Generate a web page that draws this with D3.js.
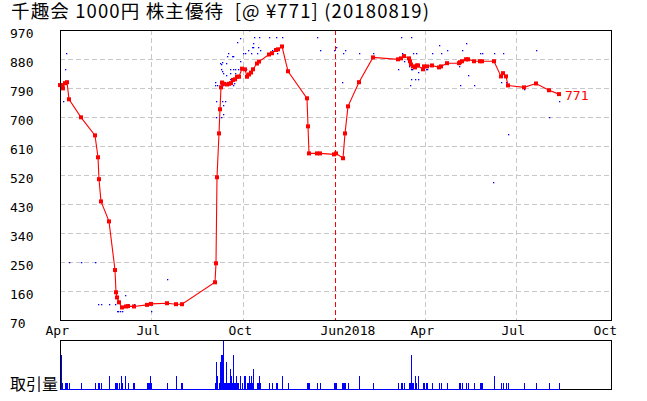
<!DOCTYPE html>
<html><head><meta charset="utf-8">
<script src="https://cdn.jsdelivr.net/npm/d3@7"></script>
<style>body{margin:0;background:#fff}</style>
</head><body>
<svg id="c" width="647" height="401"></svg>
<script>
const titleText = "千趣会 1000円 株主優待  [@ ¥771] (20180819)";
const volumeLabel = "取引量";
const lastLabel = "771";
const yTicks = [70,160,250,340,430,520,610,700,790,880,970];
const xTickDates = ["2017-04-01","2017-07-01","2017-10-01","2018-01-01","2018-04-01","2018-07-01","2018-10-01"];
const xTickLabels = ["Apr","Jul","Oct","Jun2018","Apr","Jul","Oct"];
const gridDates = ["2017-07-01","2017-10-01","2018-04-01","2018-07-01"];
const yearLineDate = "2018-01-01";

const lineDates = ["2017-04-01","2017-04-03","2017-04-04","2017-04-06","2017-04-08","2017-04-10","2017-04-22","2017-05-06","2017-05-09","2017-05-10","2017-05-12","2017-05-20","2017-05-26","2017-05-27","2017-05-28","2017-05-30","2017-06-02","2017-06-06","2017-06-08","2017-06-14","2017-06-27","2017-07-01","2017-07-17","2017-07-26","2017-08-01","2017-09-03","2017-09-04","2017-09-05","2017-09-07","2017-09-08","2017-09-09","2017-09-10","2017-09-12","2017-09-15","2017-09-17","2017-09-19","2017-09-21","2017-09-23","2017-09-25","2017-09-27","2017-09-30","2017-10-03","2017-10-05","2017-10-07","2017-10-09","2017-10-11","2017-10-15","2017-10-17","2017-10-27","2017-10-30","2017-11-03","2017-11-05","2017-11-09","2017-11-15","2017-12-04","2017-12-05","2017-12-06","2017-12-14","2017-12-17","2017-12-31","2018-01-02","2018-01-09","2018-01-11","2018-01-14","2018-01-25","2018-02-08","2018-03-05","2018-03-08","2018-03-11","2018-03-16","2018-03-17","2018-03-18","2018-03-20","2018-03-22","2018-03-24","2018-03-25","2018-03-30","2018-03-31","2018-04-03","2018-04-08","2018-04-15","2018-04-17","2018-04-23","2018-05-05","2018-05-06","2018-05-08","2018-05-12","2018-05-14","2018-05-20","2018-05-26","2018-05-28","2018-06-09","2018-06-16","2018-06-18","2018-06-21","2018-06-23","2018-07-09","2018-07-21","2018-08-03","2018-08-13"];
const lineValues = [799,799,789,805,808,755,699,643,575,507,438,376,225,156,140,125,109,112,113,112,117,120,122,119,119,187,246,513,649,724,792,807,803,801,803,805,815,817,825,825,850,848,825,832,838,848,866,872,894,898,908,910,919,842,758,671,587,587,587,584,587,572,649,733,808,885,879,882,889,882,873,863,857,854,860,860,848,857,857,860,854,857,867,867,870,873,879,879,873,873,873,873,826,836,826,798,792,804,783,771];

const dotDates = ["2017-04-07","2017-04-06","2017-04-04","2017-04-10","2017-04-22","2017-05-06","2017-05-09","2017-05-12","2017-05-20","2017-05-26","2017-05-28","2017-05-29","2017-05-31","2017-06-02","2017-06-05","2017-06-08","2017-06-14","2017-07-01","2017-07-17",
"2017-09-03","2017-09-03","2017-09-05","2017-09-11","2017-09-04","2017-09-10","2017-09-13","2017-09-11","2017-09-04","2017-09-09","2017-09-11","2017-09-08","2017-09-09","2017-09-10","2017-09-14","2017-09-16","2017-09-15","2017-09-20","2017-09-21","2017-09-25","2017-09-28","2017-09-28","2017-10-01","2017-10-03","2017-10-06","2017-10-07","2017-10-09","2017-10-10","2017-10-11","2017-10-11","2017-10-12","2017-10-15","2017-10-16","2017-10-17","2017-10-18","2017-10-27","2017-10-30","2017-11-03","2017-11-04","2017-11-09",
"2017-09-09","2017-09-10","2017-09-11","2017-09-14","2017-09-18","2017-09-18","2017-09-18","2017-09-21","2017-09-21","2017-09-21","2017-09-22","2017-09-23","2017-09-23","2017-09-26","2017-09-30","2017-10-02","2017-10-04","2017-09-08",
"2017-12-14","2017-12-17","2017-12-31","2018-01-02","2018-01-08","2018-01-09","2018-01-11","2018-01-25","2018-02-08","2018-03-05","2018-03-08","2018-03-09","2018-03-11","2018-03-16","2018-03-17","2018-03-18","2018-03-18","2018-03-18","2018-03-19","2018-03-20","2018-03-22","2018-03-23","2018-03-25","2018-03-25","2018-04-02","2018-04-03","2018-04-08","2018-04-15","2018-04-17","2018-04-23","2018-05-05","2018-05-06","2018-05-08","2018-05-12","2018-05-14","2018-05-20","2018-05-26","2018-05-28","2018-06-08","2018-06-09","2018-06-16","2018-06-18","2018-06-21","2018-06-23","2018-07-09","2018-07-21","2018-08-03","2018-08-13"];
const dotValues = [898,848,750,249,249,249,119,119,119,119,98,98,98,98,147,119,119,98,197,
808,798,798,798,749,749,749,736,699,699,708,867,866,870,867,898,888,888,888,932,945,873,898,898,907,970,898,916,929,916,947,898,916,947,907,947,907,947,898,947,
848,842,836,829,848,838,817,848,815,798,805,848,838,848,848,848,848,805,
947,907,908,916,808,898,907,898,898,848,947,898,873,857,798,947,848,817,848,898,817,898,839,817,848,848,898,922,898,907,857,798,907,929,829,798,898,898,498,898,808,898,808,646,786,907,699,749];

const volDates = ["2017-04-02","2017-04-03","2017-04-06","2017-04-07","2017-04-08","2017-04-10","2017-04-22","2017-05-06","2017-05-09","2017-05-10","2017-05-12","2017-05-20","2017-05-26","2017-05-27","2017-05-28","2017-05-30","2017-06-01","2017-06-02","2017-06-05","2017-06-08","2017-06-13","2017-06-14","2017-06-27","2017-06-28","2017-06-29","2017-06-30","2017-07-01","2017-07-17","2017-07-26","2017-07-31","2017-08-01",
"2017-09-03","2017-09-04","2017-09-05","2017-09-07","2017-09-08","2017-09-09","2017-09-10","2017-09-11","2017-09-12","2017-09-13","2017-09-14","2017-09-15","2017-09-16","2017-09-17","2017-09-18","2017-09-19","2017-09-20","2017-09-21","2017-09-22","2017-09-23","2017-09-24","2017-09-25","2017-09-26","2017-09-28","2017-09-30","2017-10-02","2017-10-03","2017-10-05","2017-10-06","2017-10-07","2017-10-08","2017-10-09","2017-10-10","2017-10-11","2017-10-15","2017-10-16","2017-10-17","2017-10-18","2017-10-27","2017-10-30","2017-11-03","2017-11-04","2017-11-09","2017-11-15",
"2017-12-04","2017-12-05","2017-12-06","2017-12-14","2017-12-17","2017-12-31","2018-01-01","2018-01-02","2018-01-08","2018-01-09","2018-01-10","2018-01-11","2018-01-14","2018-01-25","2018-02-08",
"2018-03-05","2018-03-08","2018-03-09","2018-03-11","2018-03-16","2018-03-17","2018-03-18","2018-03-19","2018-03-20","2018-03-22","2018-03-23","2018-03-25","2018-03-30","2018-03-31","2018-04-02","2018-04-03","2018-04-08","2018-04-15","2018-04-17","2018-04-23","2018-05-05","2018-05-06","2018-05-08","2018-05-12","2018-05-14","2018-05-20","2018-05-26","2018-05-27","2018-05-28","2018-06-09","2018-06-16","2018-06-18","2018-06-21","2018-06-23","2018-07-09","2018-07-21","2018-08-03","2018-08-13"];
const volValues = [5,1,1,1,1,1,1,1,1,1,1,2,1,1,1,1,2,1,2,1,1,1,1,1,1,2,1,1,2,1,1,
1,4,2,1,4,5,5,7,1,1,4,1,1,1,3,2,1,5,1,1,2,1,1,2,1,2,2,1,1,2,1,2,1,3,1,1,2,1,1,1,1,1,2,1,
1,1,1,1,1,1,1,1,1,1,1,1,1,2,1,
1,1,1,1,1,1,5,1,1,2,1,2,1,1,1,1,1,1,1,1,1,1,1,1,1,1,1,1,1,2,1,1,1,1,1,1,1,1];

const parse = d3.timeParse("%Y-%m-%d");
const svg = d3.select("#c");
const L = 60, R = 611, T = 30, B = 320, VT = 341, VB = 390;
const x = d3.scaleTime().domain([parse("2017-04-01"), parse("2018-10-01")]).range([60, 608]);
const y = d3.scaleLinear().domain([70, 970]).range([B, T]);
const yv = d3.scaleLinear().domain([0, 7]).range([VB, VT]);
const monoFont = "'DejaVu Sans Mono', monospace";
const cjkFont = "'Noto Sans CJK JP', 'Noto Sans', sans-serif";

svg.append("rect").attr("width", 647).attr("height", 401).attr("fill", "#fff");

// title
svg.append("text").attr("x", 11).attr("y", 18).attr("font-family", cjkFont)
  .attr("font-size", 18.5).attr("fill", "#000")
  .attr("xml:space", "preserve").style("white-space", "pre")
  .attr("textLength", 418).attr("lengthAdjust", "spacing")
  .text(titleText);

// horizontal grid
svg.append("g").selectAll("line").data(yTicks.slice(1, -1)).join("line")
  .attr("x1", L).attr("x2", R)
  .attr("y1", d => Math.round(y(d)) + 0.5).attr("y2", d => Math.round(y(d)) + 0.5)
  .attr("stroke", "#c8c8c8").attr("stroke-dasharray", "5,3");
// vertical grid
svg.append("g").selectAll("line").data(gridDates).join("line")
  .attr("x1", d => Math.round(x(parse(d))) + 0.5).attr("x2", d => Math.round(x(parse(d))) + 0.5)
  .attr("y1", T).attr("y2", B)
  .attr("stroke", "#c8c8c8").attr("stroke-dasharray", "5,3");
// year separator
svg.append("line")
  .attr("x1", Math.round(x(parse(yearLineDate))) + 0.5).attr("x2", Math.round(x(parse(yearLineDate))) + 0.5)
  .attr("y1", T).attr("y2", B).attr("stroke", "#ff0000").attr("stroke-dasharray", "5,3");

// blue dots
const plot = svg.append("g");
plot.selectAll("rect.dot").data(dotDates.map((d, i) => [parse(d), dotValues[i]])).join("rect")
  .attr("class", "dot")
  .attr("x", d => Math.round(x(d[0]))).attr("y", d => Math.round(y(d[1])))
  .attr("width", 1.3).attr("height", 1.3).attr("fill", "#0000ff");

// red line
const pts = lineDates.map((d, i) => [parse(d), lineValues[i]]);
plot.append("path").datum(pts)
  .attr("d", d3.line().x(d => x(d[0])).y(d => y(d[1])))
  .attr("fill", "none").attr("stroke", "#ff0000").attr("stroke-width", 1.1);
plot.selectAll("rect.mk").data(pts).join("rect").attr("class", "mk")
  .attr("x", d => x(d[0]) - 2).attr("y", d => y(d[1]) - 2)
  .attr("width", 4).attr("height", 4).attr("fill", "#ff0000");

// last label
const last = pts[pts.length - 1];
svg.append("text").attr("x", x(last[0]) + 6).attr("y", y(last[1]) + 6)
  .attr("font-family", monoFont).attr("font-size", 13).attr("fill", "#ff0000").text(lastLabel);

// border
svg.append("rect").attr("x", L + 0.5).attr("y", T + 0.5).attr("width", R - L).attr("height", B - T)
  .attr("fill", "none").attr("stroke", "#000");

// y labels
svg.append("g").selectAll("text").data(yTicks).join("text")
  .attr("x", 10).attr("y", d => y(d) + 8)
  .attr("font-family", monoFont).attr("font-size", 13).attr("fill", "#000").text(d => d);
// x labels
svg.append("g").selectAll("text").data(xTickDates).join("text")
  .attr("x", d => x(parse(d)) - 14.5).attr("y", 335)
  .attr("font-family", monoFont).attr("font-size", 13).attr("fill", "#000")
  .text((d, i) => xTickLabels[i]);

// volume panel
svg.append("rect").attr("x", L + 0.5).attr("y", VT - 0.5).attr("width", R - L).attr("height", VB - VT)
  .attr("fill", "none").attr("stroke", "#000");
const vpts = volDates.map((d, i) => [parse(d), volValues[i]]);
svg.append("line")
  .attr("x1", L).attr("x2", Math.round(x(vpts[vpts.length - 1][0])) + 1)
  .attr("y1", VB - 0.5).attr("y2", VB - 0.5).attr("stroke", "#0000ff");
svg.append("g").selectAll("rect").data(vpts).join("rect")
  .attr("x", d => Math.round(x(d[0]))).attr("y", d => yv(d[1]))
  .attr("width", 1).attr("height", d => VB - yv(d[1]))
  .attr("fill", "#0000ff").attr("shape-rendering", "crispEdges");
svg.append("text").attr("x", 10).attr("y", 390).attr("font-family", cjkFont)
  .attr("font-size", 16).attr("fill", "#000").text(volumeLabel);
</script>
</body></html>
